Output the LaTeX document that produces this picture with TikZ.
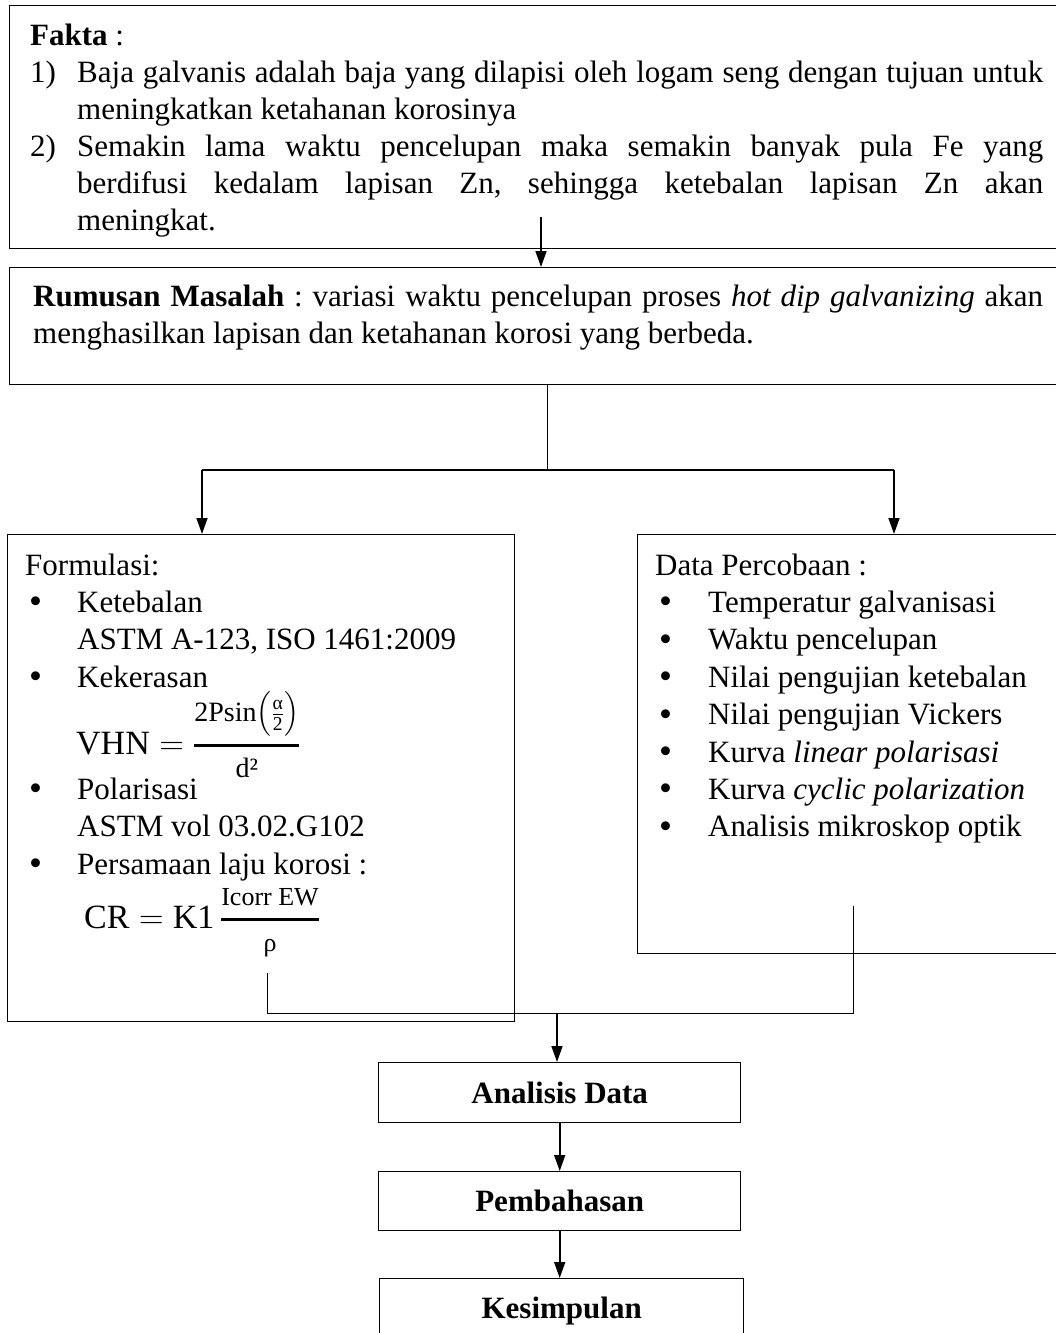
\RequirePackage{fix-cm}
\documentclass[tikz,border=0pt]{standalone}
\usepackage{amsmath}
\usepackage{fontspec}
\setmainfont{Liberation Serif}
\usetikzlibrary{arrows.meta}
\newcommand\fs{\fontsize{31}{37}\selectfont\frenchspacing}
\newcommand\fm{\fontsize{34}{40}\selectfont}
\newcommand\jline[1]{\makebox[966pt][s]{#1}}
\newcommand\bul{\raisebox{-1.5pt}{\fontsize{37}{40}\selectfont •}}
\begin{document}
\begin{tikzpicture}[x=1pt,y=-1pt,
  box/.style={draw, line width=1.4pt, inner sep=0pt, anchor=north west},
  lbl/.style={draw, line width=1.4pt, inner sep=0pt, anchor=north west, font=\fs\bfseries},
  txt/.style={anchor=base west, inner sep=0pt, font=\fs},
  frm/.style={anchor=base west, inner sep=0pt, font=\fm},
  arr/.style={-{Triangle[length=16pt,width=11pt]}, line width=1.6pt},
  ln/.style={line width=1.4pt},
  thinln/.style={line width=1pt}]
\useasboundingbox (0,0) rectangle (1056,1333);
% boxes
\node[box, minimum width=1051pt, minimum height=243pt] (fakta) at (9,5) {};
\node[box, minimum width=1051pt, minimum height=117pt] (rumusan) at (9,267) {};
\node[box, minimum width=507pt, minimum height=487pt] (formulasi) at (7,534) {};
\node[box, minimum width=423pt, minimum height=419pt] (data) at (637,534) {};
\node[lbl, minimum width=362pt, minimum height=60pt] (analisis) at (378,1062) {Analisis Data};
\node[lbl, minimum width=362pt, minimum height=59pt] (bahas) at (378,1171) {Pembahasan};
\node[lbl, minimum width=364pt, minimum height=64pt] (simpul) at (379,1278) {Kesimpulan};
% Fakta
\node[txt] (fk) at (30,45) {\textbf{Fakta} :};
\node[txt] (n1) at (30,82) {1)};
\node[txt] (f1) at (77,82) {\jline{Baja galvanis adalah baja yang dilapisi oleh logam seng dengan tujuan untuk}};
\node[txt] (f2) at (77,119) {meningkatkan ketahanan korosinya};
\node[txt] (n2) at (30,156) {2)};
\node[txt] (f3) at (77,156) {\jline{Semakin lama waktu pencelupan maka semakin banyak pula Fe yang}};
\node[txt] (f4) at (77,193) {\jline{berdifusi kedalam lapisan Zn, sehingga ketebalan lapisan Zn akan}};
\node[txt] (f5) at (77,230) {meningkat.};
% Rumusan
\node[txt] (r1) at (33,306) {\makebox[1010pt][s]{\textbf{Rumusan Masalah} : variasi waktu pencelupan proses \textit{hot dip galvanizing} akan}};
\node[txt] (r2) at (33,343) {menghasilkan lapisan dan ketahanan korosi yang berbeda.};
% Formulasi
\node[txt] (l0) at (25,575) {Formulasi:};
\node[txt] (b1) at (29,612.4) {\bul};
\node[txt] (l1) at (77,612.4) {Ketebalan};
\node[txt] (l2) at (77,649.8) {ASTM A-123, ISO 1461:2009};
\node[txt] (b2) at (29,687.2) {\bul};
\node[txt] (l3) at (77,687.2) {Kekerasan};
\node[frm] (vhn) at (76,754)
  {$\text{VHN} = \genfrac{}{}{2.6pt}{0}%
     {\mbox{\fontsize{28}{30}\selectfont 2Psin$\left(\frac{\text{α}}{\text{2}}\right)$}}%
     {\mbox{\fontsize{28}{30}\selectfont d²}}$};
\node[txt] (b3) at (29,799.4) {\bul};
\node[txt] (l4) at (77,799.4) {Polarisasi};
\node[txt] (l5) at (77,836.8) {ASTM vol 03.02.G102};
\node[txt] (b4) at (29,874.2) {\bul};
\node[txt] (l6) at (77,874.2) {Persamaan laju korosi :};
\node[frm] (cr) at (84,928)
  {$\text{CR} = \text{K1}\,\genfrac{}{}{2.6pt}{0}%
     {\mbox{\fontsize{26}{28}\selectfont Icorr EW}}%
     {\mbox{\fontsize{26}{28}\selectfont ρ}}$};
% Data Percobaan
\node[txt] (d0) at (655,575) {Data Percobaan :};
\foreach \i/\yy/\t in {1/612.4/{Temperatur galvanisasi},
                       2/649.8/{Waktu pencelupan},
                       3/687.2/{Nilai pengujian ketebalan},
                       4/724.6/{Nilai pengujian Vickers},
                       5/762/{Kurva \textit{linear polarisasi}},
                       6/799.4/{Kurva \textit{cyclic polarization}},
                       7/836.8/{Analisis mikroskop optik}}{
  \node[txt] (db\i) at (659,\yy) {\bul};
  \node[txt] (dt\i) at (708,\yy) {\t};
}
% connectors
\coordinate (a1) at (541,217);
\draw[arr] (a1) -- (a1 |- rumusan.north);
\coordinate (sp) at (547,470);
\draw[thinln] (sp |- rumusan.south) -- (sp);
\coordinate (spl) at (202,470);
\coordinate (spr) at (894,470);
\draw[ln] (spl) -- (spr);
\draw[arr] (spl) -- (spl |- formulasi.north);
\draw[arr] (spr) -- (spr |- data.north);
\coordinate (lt) at (267,973);
\coordinate (lb) at (267,1013);
\coordinate (rb) at (853,1013);
\coordinate (rt) at (853,906);
\draw[thinln] (lt) -- (lb) -- (rb) -- (rt);
\coordinate (mj) at (557,1013);
\draw[arr] (mj) -- (mj |- analisis.north);
\draw[arr] (analisis.south) -- (bahas.north);
\draw[arr] (bahas.south) -- (bahas.south |- simpul.north);
\end{tikzpicture}
\end{document}
